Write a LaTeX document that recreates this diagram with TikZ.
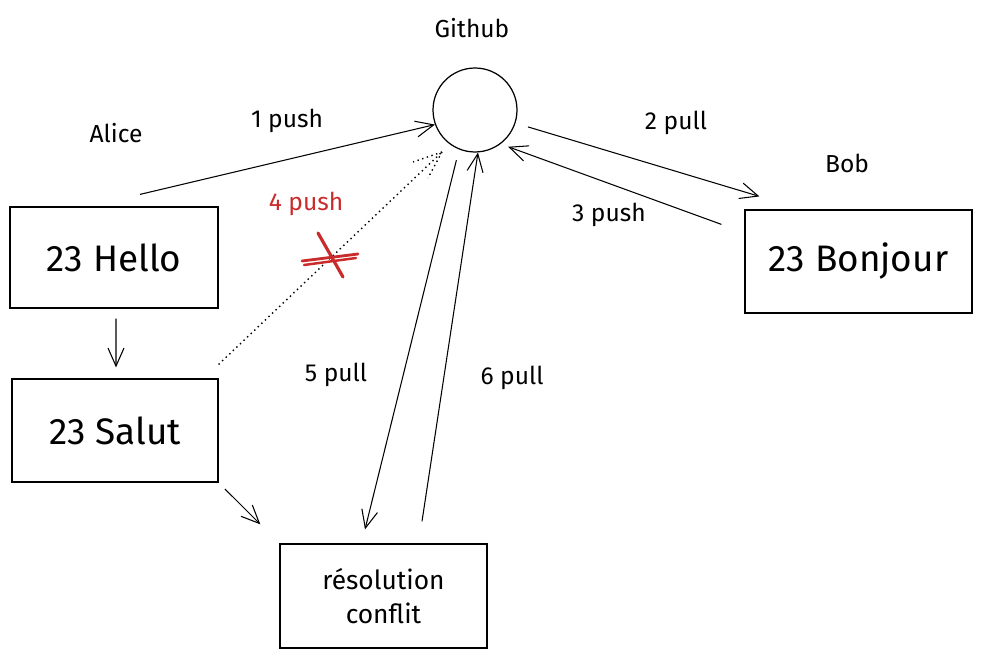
\documentclass[tikz,border=0pt]{standalone}
\usepackage{fontspec}
\setmainfont{Fira Sans}
\usetikzlibrary{arrows.meta}
\definecolor{crossred}{RGB}{201,42,42}

\begin{document}
\begin{tikzpicture}[x=0.02cm, y=-0.02cm,
    box/.style={draw, line width=0.7pt, inner sep=0pt, font=\fontsize{21}{25}\selectfont},
    lbl/.style={font=\fontsize{14}{17}\selectfont},
    conn/.style={line width=0.6pt, -{Straight Barb[length=3.6mm,width=3.2mm]}}]
      \useasboundingbox (0,0) rectangle (983,658);

      \node[draw, circle, line width=0.7pt, minimum size=1.68cm, inner sep=0pt] (github) at (475,110) {};
      \node[box, minimum width=4.16cm, minimum height=2.02cm] (hello) at (114,257.5) {23 Hello};
      \node[box, minimum width=4.12cm, minimum height=2.06cm] (salut) at (115,430.5) {23 Salut};
      \node[box, minimum width=4.54cm, minimum height=2.06cm] (bonjour) at (858.5,261.5) {23 Bonjour};
      \node[box, minimum width=4.14cm, minimum height=2.08cm, align=center,
            font=\fontsize{15}{19}\selectfont] (resolution) at (383.5,596) {résolution\\conflit};
      \coordinate (tip) at (442,152);

      \draw[conn] ([xshift=0.52cm,yshift=0.24cm]hello.north) -- (github.200);
      \draw[conn, shorten <=0.26cm] (github.-18) -- ([xshift=0.3cm,yshift=0.26cm]bonjour.north west);
      \draw[conn, shorten >=0.16cm] ([xshift=-0.46cm,yshift=-0.3cm]bonjour.north west) -- (github.-53);
      \draw[dotted, line width=0.8pt] ([yshift=0.28cm]salut.north east) -- (tip);
      \draw[dotted, line width=0.8pt] (tip) -- ++(-29,10);
      \draw[dotted, line width=0.8pt] (tip) -- ++(-14,26);
      \draw[conn, shorten <=0.22cm] (github.-112) -- ([xshift=-0.37cm,yshift=0.28cm]resolution.north);
      \draw[conn] ([xshift=0.77cm,yshift=0.44cm]resolution.north) -- (github.-86);
      \draw[conn, shorten <=0.2cm, shorten >=0.22cm] ([xshift=0.04cm]hello.south) -- ([xshift=0.02cm]salut.north);
      \draw[conn, shorten <=0.18cm, shorten >=0.54cm] (salut.south east) -- (resolution.north west);

      \draw[crossred, line width=1.6pt, line cap=round] (302,261) -- (358,254);
      \draw[crossred, line width=1.4pt, line cap=round] (304,265) -- (356,258);
      \draw[crossred, line width=1.8pt, line cap=round] (318,233) -- (343,277);

      \node[lbl] (gitlbl) at (472,28) {Github};
      \node[lbl] (alice) at (116,133) {Alice};
      \node[lbl] (bob) at (847,163) {Bob};
      \node[lbl] (push1) at (287,121) {1 push};
      \node[lbl] (pull2) at (676,123) {2 pull};
      \node[lbl] (push3) at (609,215) {3 push};
      \node[lbl, text=crossred] (push4) at (306,204) {4 push};
      \node[lbl] (pull5) at (336,375) {5 pull};
      \node[lbl] (pull6) at (512,378) {6 pull};
\end{tikzpicture}
\end{document}
